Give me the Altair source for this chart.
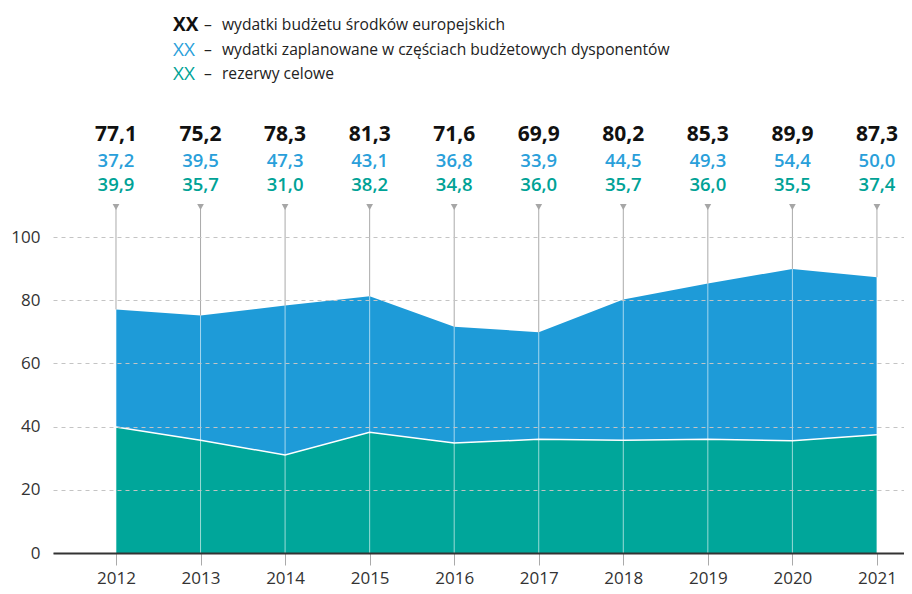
import altair as alt
import pandas as pd

# ---- data ----
years = [2012, 2013, 2014, 2015, 2016, 2017, 2018, 2019, 2020, 2021]
total = [77.1, 75.2, 78.3, 81.3, 71.6, 69.9, 80.2, 85.3, 89.9, 87.3]      # wydatki budżetu środków europejskich
planned = [37.2, 39.5, 47.3, 43.1, 36.8, 33.9, 44.5, 49.3, 54.4, 50.0]    # wydatki zaplanowane w częściach budżetowych
reserves = [39.9, 35.7, 31.0, 38.2, 34.8, 36.0, 35.7, 36.0, 35.5, 37.4]   # rezerwy celowe
y_ticks = [0, 20, 40, 60, 80, 100]

legend_keys = ["XX", "XX", "XX"]
legend_labels = [
    "wydatki budżetu środków europejskich",
    "wydatki zaplanowane w częściach budżetowych dysponentów",
    "rezerwy celowe",
]

FONT = "Open Sans"
C_TOTAL = "#111111"
C_BLUE = "#1E9BD8"
C_TEAL = "#00A69A"
C_BLUE_TXT = "#2A9FDA"
C_TEAL_TXT = "#00A296"


def fmt(v):
    return f"{v:.1f}".replace(".", ",")


df = pd.DataFrame({
    "year": years,
    "total": total,
    "planned": planned,
    "reserves": reserves,
    "total_lbl": [fmt(v) for v in total],
    "planned_lbl": [fmt(v) for v in planned],
    "reserves_lbl": [fmt(v) for v in reserves],
})

W, H = 851, 545
XLO, XHI = 2011.255, 2021.32
YMAX = 172.5

x_enc = alt.X(
    "year:Q",
    scale=alt.Scale(domain=[XLO, XHI], nice=False, zero=False),
    axis=alt.Axis(
        values=years, format="d", title=None, grid=False,
        domainColor="#333333", domainWidth=2,
        tickColor="#aaaaaa", tickSize=12, tickWidth=1,
        labelFont=FONT, labelFontSize=17, labelColor="#333333",
        labelPadding=5, zindex=1,
    ),
)

y_scale = alt.Scale(domain=[0, YMAX], nice=False)
y_axis = alt.Axis(
    values=y_ticks, title=None, domain=False, ticks=False,
    gridColor="#c4c4c4", gridDash=[4, 4], gridWidth=1,
    labelFont=FONT, labelFontSize=17, labelColor="#333333",
    labelPadding=13, zindex=1,
)


def Y(field):
    return alt.Y(field, scale=y_scale, axis=y_axis)


base = alt.Chart(df)

area_teal = base.mark_area(color=C_TEAL, opacity=1).encode(x=x_enc, y=Y("reserves:Q"))
area_blue = base.mark_area(color=C_BLUE, opacity=1).encode(
    x=x_enc, y=Y("total:Q"), y2="reserves:Q")
sep_line = base.mark_line(color="white", strokeWidth=1.5).encode(x=x_enc, y=Y("reserves:Q"))

rule_in = base.mark_rule(color="white", opacity=0.6, strokeWidth=1).encode(
    x=x_enc, y=Y("total:Q"), y2=alt.datum(0))
rule_top = base.mark_rule(color="#aaaaaa", strokeWidth=1).encode(
    x=x_enc, y=Y("total:Q"), y2=alt.value(199))
tri = base.mark_point(shape="triangle-down", filled=True, color="#a6a6a6",
                      size=45, opacity=1).encode(x=x_enc, y=alt.value(199))

t_total = base.mark_text(font=FONT, fontSize=21, fontWeight="bold", color=C_TOTAL,
                         baseline="middle").encode(x=x_enc, y=alt.value(127), text="total_lbl:N")
t_plan = base.mark_text(font=FONT, fontSize=18.5, fontWeight=600, color=C_BLUE_TXT,
                        baseline="middle").encode(x=x_enc, y=alt.value(153), text="planned_lbl:N")
t_res = base.mark_text(font=FONT, fontSize=18.5, fontWeight=600, color=C_TEAL_TXT,
                       baseline="middle").encode(x=x_enc, y=alt.value(177), text="reserves_lbl:N")

one = alt.Chart(pd.DataFrame({"k": [0]}))
leg_layers = []
leg_colors = [C_TOTAL, C_BLUE_TXT, C_TEAL_TXT]
leg_weights = ["bold", "normal", "normal"]
leg_y = [16.5, 42, 65.5]
for key, lab, col, wt, yy in zip(legend_keys, legend_labels, leg_colors, leg_weights, leg_y):
    leg_layers.append(one.mark_text(font=FONT, fontSize=19, fontWeight=wt, color=col,
                                    align="left", baseline="middle").encode(
        x=alt.value(120), y=alt.value(yy), text=alt.value(key)))
    leg_layers.append(one.mark_text(font=FONT, fontSize=15.6, color="#222222",
                                    align="left", baseline="middle").encode(
        x=alt.value(151), y=alt.value(yy), text=alt.value("–")))
    leg_layers.append(one.mark_text(font=FONT, fontSize=15.6, color="#222222",
                                    align="left", baseline="middle").encode(
        x=alt.value(169), y=alt.value(yy), text=alt.value(lab)))

chart = alt.layer(
    area_teal, area_blue, sep_line, rule_in, rule_top, tri, t_total, t_plan, t_res,
    *leg_layers,
).properties(
    width=W, height=H,
    autosize=alt.AutoSizeParams(type="none"),
    padding={"left": 45, "top": 0, "right": 0, "bottom": 36},
    background="white",
).configure_view(stroke=None)

chart.save("out.html", embed_options={"renderer": "svg", "actions": False})
